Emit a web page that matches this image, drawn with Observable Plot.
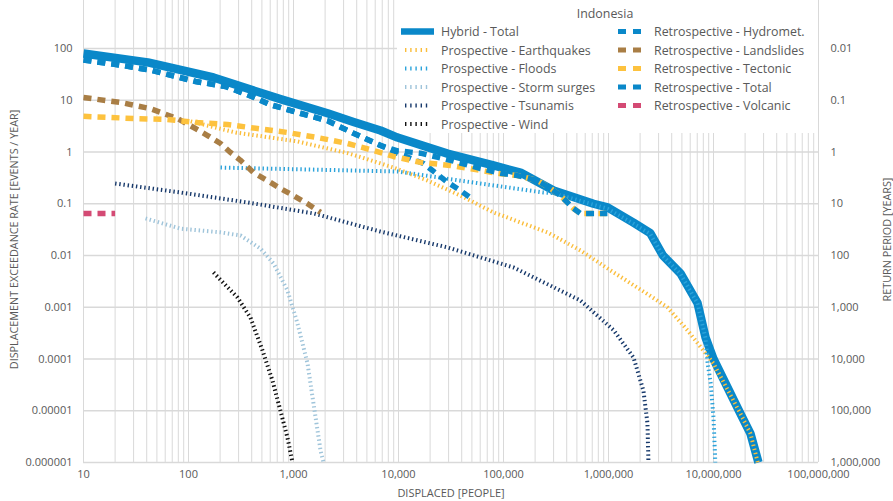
<!DOCTYPE html>
<html><head><meta charset="utf-8">
<script src="https://cdn.jsdelivr.net/npm/d3@7"></script>
<script src="https://cdn.jsdelivr.net/npm/@observablehq/plot@0.6"></script>
<style>
html,body{margin:0;padding:0;background:#fff;}
#chart{position:relative;width:893px;height:501px;overflow:hidden;}
</style></head><body><div id="chart"></div>
<script>
// ---- data: [displaced people, exceedance rate per year] ----
const hybridTotal = [[10,80],[41,54],[173,27.5],[750,10.5],[2110,5.6],[3730,3.8],[6740,2.6],[9800,1.9],[29300,0.93],[80300,0.55],[145000,0.40],[300000,0.18],[720000,0.10],[980000,0.085],[1730000,0.043],[2500000,0.027],[3300000,0.010],[4850000,0.0045],[7050000,0.0012],[8400000,0.00026],[10000000,0.0001],[18000000,8.9e-6],[22500000,3.6e-6],[26800000,1e-6]];
const prospEarthquakes = [[105,3.9],[281,2.38],[1090,1.6],[3270,0.95],[4350,0.8],[8950,0.5],[18900,0.28],[38900,0.144],[80300,0.068],[262000,0.028],[541000,0.0125],[1120000,0.0047],[2350000,0.0018],[3650000,0.00099],[5650000,0.00036],[8000000,0.000146],[10000000,0.000082],[18000000,8.9e-6],[22500000,3.6e-6],[26400000,1e-6]];
const prospFloods = [[202,0.5],[9800,0.42],[60000,0.246],[240000,0.165],[300000,0.16],[980000,0.08],[1730000,0.041],[2500000,0.026],[3300000,0.0098],[4850000,0.0044],[7050000,0.00118],[8400000,0.00025],[8800000,0.000082],[9400000,0.000034],[10000000,7.4e-6],[10400000,1e-6]];
const prospStormSurges = [[39,0.052],[84,0.033],[202,0.028],[313,0.0243],[485,0.0136],[646,0.007],[877,0.0021],[1090,0.00049],[1360,0.000082],[1550,0.0000138],[1810,1.7e-6],[1930,1e-6]];
const prospTsunamis = [[20,0.246],[84,0.165],[365,0.106],[1550,0.065],[6740,0.029],[29300,0.0143],[124000,0.0059],[541000,0.00135],[1120000,0.00036],[1730000,0.000107],[2150000,0.0000246],[2350000,5.7e-6],[2400000,1e-6]];
const prospWind = [[173,0.0047],[293,0.00154],[389,0.00063],[507,0.000146],[631,0.000038],[751,0.00001],[877,3.0e-6],[978,1e-6]];
const retroHydromet = [[10,60],[23.5,47],[45,37.6],[117,23],[225,18.5],[416,11.5],[604,8.2],[1090,5.8],[2110,4.0],[3730,2.3],[6740,1.34],[9780,0.95],[17300,0.60],[29300,0.26],[38900,0.18],[48500,0.13]];
const retroLandslides = [[10,11.3],[22.5,9.06],[43,6.9],[79,4.4],[112,2.97],[152,2.08],[202,1.46],[251,0.98],[313,0.69],[416,0.40],[565,0.28],[750,0.197],[1000,0.144],[1360,0.10],[1810,0.068]];
const retroTectonic = [[10,4.9],[33,4.4],[63,4.25],[122,3.7],[235,3.4],[454,2.84],[877,2.38],[1690,1.9],[3270,1.46],[5780,1.07],[8950,0.82],[16200,0.63],[31300,0.55],[60400,0.44],[93600,0.38],[136000,0.35],[211000,0.28],[281000,0.197],[349000,0.144],[464000,0.081],[541000,0.065],[977000,0.065]];
const retroTotal = [[10,60],[23.5,47],[45,37.6],[117,23],[225,18.5],[416,11.5],[604,8.2],[1090,5.8],[2110,4.0],[3730,2.3],[6740,1.34],[9780,1.05],[16200,0.95],[31300,0.69],[60400,0.48],[93600,0.39],[136000,0.35],[211000,0.28],[281000,0.197],[349000,0.144],[464000,0.081],[541000,0.065],[977000,0.065]];
const retroVolcanic = [[10,0.065],[20,0.065]];

// ---- ticks & labels ----
const xTicks = [10,100,1e3,1e4,1e5,1e6,1e7,1e8];
const xTickLabels = ["10","100","1,000","10,000","100,000","1,000,000","10,000,000","100,000,000"];
const yTicks = [100,10,1,0.1,0.01,0.001,0.0001,0.00001,0.000001];
const yTickLabels = ["100","10","1","0.1","0.01","0.001","0.0001","0.00001","0.000001"];
const returnPeriodLabels = ["0.01","0.1","1","10","100","1,000","10,000","100,000","1,000,000"];
const xTitle = "DISPLACED [PEOPLE]";
const yTitle = "DISPLACEMENT EXCEEDANCE RATE [EVENTS / YEAR]";
const y2Title = "RETURN PERIOD [YEARS]";
const legendTitle = "Indonesia";

const series = [
  {name:"Hybrid - Total", data:hybridTotal, color:"#0a88c9", kind:"hybrid"},
  {name:"Prospective - Earthquakes", data:prospEarthquakes, color:"#fbbd3a", kind:"prosp"},
  {name:"Prospective - Floods", data:prospFloods, color:"#2ba3db", kind:"prosp"},
  {name:"Prospective - Storm surges", data:prospStormSurges, color:"#9fc4da", kind:"prosp"},
  {name:"Prospective - Tsunamis", data:prospTsunamis, color:"#17396b", kind:"prosp"},
  {name:"Prospective - Wind", data:prospWind, color:"#111111", kind:"prosp"},
  {name:"Retrospective - Hydromet.", data:retroHydromet, color:"#0a88c9", kind:"retro"},
  {name:"Retrospective - Landslides", data:retroLandslides, color:"#a97e45", kind:"retro"},
  {name:"Retrospective - Tectonic", data:retroTectonic, color:"#fdc23e", kind:"retro"},
  {name:"Retrospective - Total", data:retroTotal, color:"#0a88c9", kind:"retro"},
  {name:"Retrospective - Volcanic", data:retroVolcanic, color:"#d44a74", kind:"retro"}
];
const lineStyle = {
  hybrid:{strokeWidth:8.5},
  prosp:{strokeWidth:4, strokeDasharray:"1.4,2.8"},
  retro:{strokeWidth:5.5, strokeDasharray:"8,6"}
};

const xLab = new Map(xTicks.map((d,i)=>[d,xTickLabels[i]]));
const yLab = new Map(yTicks.map((d,i)=>[d,yTickLabels[i]]));
const rpLab = new Map(yTicks.map((d,i)=>[d,returnPeriodLabels[i]]));
const xGrid = d3.scaleLog().domain([10,1e8]).ticks();

const textColor = "#595959";
const lineMarks = series.map(s => Plot.line(s.data, {
  x: d=>d[0], y: d=>d[1], stroke: s.color, strokeLinejoin:"round", strokeLinecap:"butt",
  ...lineStyle[s.kind]
}));

const chart = Plot.plot({
  width:893, height:501,
  marginLeft:83, marginRight:75, marginTop:0, marginBottom:39,
  x:{type:"log", domain:[10,1e8]},
  y:{type:"log", domain:[1e-6, 846]},
  style:{fontFamily:"'Open Sans', sans-serif", fontSize:"11px", color:textColor, background:"#fff"},
  marks:[
    Plot.gridX(xGrid, {stroke:"#d9d9d9", strokeOpacity:1, strokeWidth:1}),
    Plot.gridY(yTicks, {stroke:"#d9d9d9", strokeOpacity:1, strokeWidth:1.6}),
    Plot.axisX(xTicks, {tickSize:0, tickPadding:8, tickFormat:d=>xLab.get(d), label:null}),
    Plot.axisY(yTicks, {anchor:"left", tickSize:0, tickPadding:11, tickFormat:d=>yLab.get(d), label:null}),
    Plot.axisY(yTicks, {anchor:"right", tickSize:0, tickPadding:12, tickFormat:d=>rpLab.get(d), label:null}),
    ...lineMarks,
    Plot.text([xTitle], {frameAnchor:"bottom", dy:31, textAnchor:"middle", lineAnchor:"middle", fontSize:11, fill:textColor}),
    Plot.text([yTitle], {frameAnchor:"left", dx:-69, dy:8, rotate:-90, textAnchor:"middle", lineAnchor:"middle", fontSize:10.8, fill:textColor}),
    Plot.text([y2Title], {frameAnchor:"right", dx:69, dy:8, rotate:-90, textAnchor:"middle", lineAnchor:"middle", fontSize:10.8, fill:textColor})
  ]
});
document.getElementById("chart").appendChild(chart);

// ---- legend overlay ----
const svg = d3.select(chart);
const lg = svg.append("g").attr("font-family","'Open Sans', sans-serif").attr("font-size","12.4px").attr("fill",textColor).attr("text-anchor","start");
lg.append("rect").attr("x",397).attr("y",0).attr("width",421).attr("height",133).attr("fill","#fff");
lg.append("text").attr("x",605).attr("y",13).attr("text-anchor","middle").attr("dominant-baseline","central").text(legendTitle);
const rowY = i => 31.5 + i*18.5;
series.forEach((s,i) => {
  const col = i < 6 ? 0 : 1;
  const row = col === 0 ? i : i - 6;
  const y = rowY(row);
  const sx = col === 0 ? 401 : 618;
  const tx = col === 0 ? 441 : 654;
  if (s.kind === "hybrid") {
    lg.append("line").attr("x1",sx).attr("x2",sx+33).attr("y1",y).attr("y2",y).attr("stroke",s.color).attr("stroke-width",6.5);
  } else if (s.kind === "prosp") {
    lg.append("line").attr("x1",sx+4).attr("x2",sx+27).attr("y1",y).attr("y2",y).attr("stroke",s.color).attr("stroke-width",4).attr("stroke-dasharray","1.4,3.8");
  } else {
    lg.append("line").attr("x1",sx).attr("x2",sx+24).attr("y1",y).attr("y2",y).attr("stroke",s.color).attr("stroke-width",5).attr("stroke-dasharray","8,7");
  }
  lg.append("text").attr("x",tx).attr("y",y).attr("text-anchor","start").attr("dominant-baseline","central").text(s.name);
});
</script></body></html>
